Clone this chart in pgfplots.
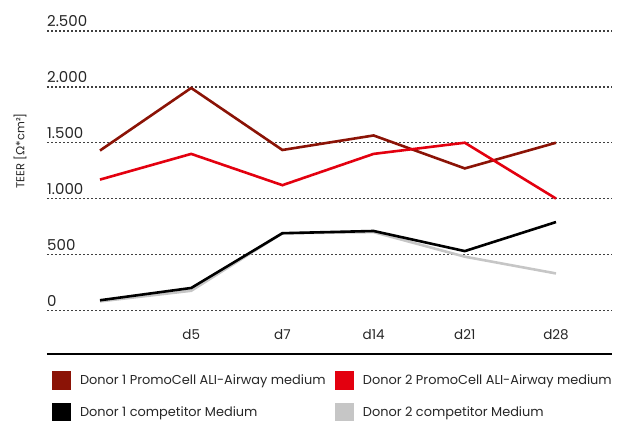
\documentclass[border=0pt]{standalone}
\usepackage{pgfplots}
\pgfplotsset{compat=1.18}
\usepackage{fontspec}
\setmainfont{Poppins}
\newfontfamily\greekfont{Lato}

\definecolor{darkred}{HTML}{8B1306}
\definecolor{promored}{HTML}{E3000F}
\definecolor{lightgrey}{HTML}{C6C6C6}
\definecolor{txt}{HTML}{262626}

\begin{document}
\begin{tikzpicture}
\begin{axis}[
    at={(47bp,67bp)}, anchor=south west,
    scale only axis,
    width=565bp, height=323bp,
    xmin=-0.581, xmax=5.614,
    ymin=-391, ymax=2500,
    axis x line*=bottom, axis y line*=left,
    x axis line style={-, line width=2.8bp, black},
    y axis line style={draw=none},
    major tick length=0pt,
    xtick={1,...,5},
    xticklabels={d5,d7,d14,d21,d28},
    ytick={0,500,...,2500},
    yticklabels={0,500,1.000,1.500,2.000,2.500},
    ymajorgrids,
    grid style={line width=1.3bp, dash pattern=on 2bp off 2bp, black!75},
    xticklabel style={anchor=base, inner sep=0pt, yshift=15bp,
        font=\fontsize{13.5bp}{15bp}\selectfont, text=txt},
    yticklabel style={anchor=base west, inner sep=0pt, yshift=4bp,
        font=\fontsize{15bp}{17bp}\selectfont, text=txt},
    ylabel={TEER [{\greekfont Ω}*cm²]},
    ylabel style={at={(rel axis cs:-0.0478,0.6285)}, anchor=center,
        font=\fontsize{11.5bp}{13bp}\selectfont, text=txt},
    legend columns=2,
    legend cell align=left,
    legend image code/.code={\fill[#1] (0bp,-9bp) rectangle (18bp,9bp);},
    legend style={at={(rel axis cs:0.0083,-0.0526)}, anchor=north west,
        draw=none, fill=none, inner sep=0pt, outer sep=0pt, row sep=14bp,
        font=\fontsize{12.9bp}{14bp}\selectfont, text=txt,
        nodes={inner sep=0pt},
        /tikz/every odd column/.append style={column sep=10bp},
        /tikz/every even column/.append style={column sep=9bp}},
]
% drawing order: grey under black, dark red under red
\addplot[lightgrey, line width=2.6bp, forget plot] coordinates {
    (0,80) (1,175) (2,690) (3,700) (4,480) (5,330)};
\addplot[black, line width=2.6bp, forget plot] coordinates {
    (0,90) (1,200) (2,690) (3,710) (4,530) (5,790)};
\addplot[darkred, line width=2.6bp, forget plot] coordinates {
    (0,1430) (1,1990) (2,1435) (3,1565) (4,1270) (5,1500)};
\addplot[promored, line width=2.6bp, forget plot] coordinates {
    (0,1170) (1,1400) (2,1120) (3,1400) (4,1500) (5,1000)};

\addlegendimage{color=darkred}
\addlegendentry{Donor 1 PromoCell ALI-Airway medium}
\addlegendimage{color=promored}
\addlegendentry{Donor 2 PromoCell ALI-Airway medium}
\addlegendimage{color=black}
\addlegendentry{Donor 1 competitor Medium}
\addlegendimage{color=lightgrey}
\addlegendentry{Donor 2 competitor Medium}
\end{axis}
\pgfresetboundingbox
\path[use as bounding box] (0,0) rectangle (623bp,421bp);
\end{tikzpicture}
\end{document}
